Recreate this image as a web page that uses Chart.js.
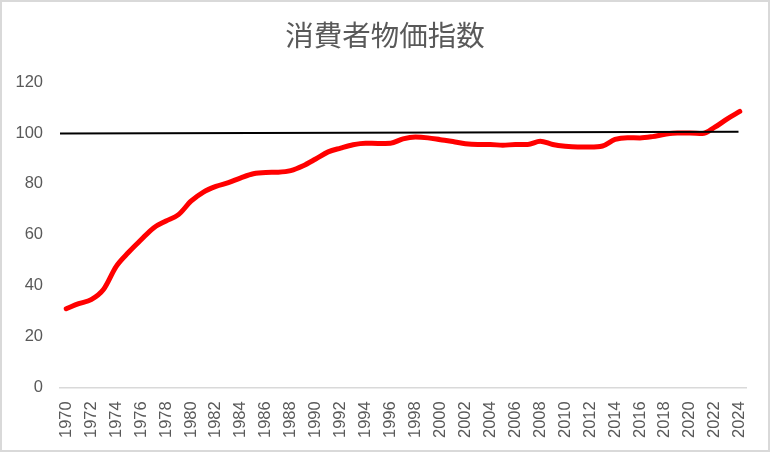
<!DOCTYPE html>
<html><head><meta charset="utf-8">
<script src="https://cdn.jsdelivr.net/npm/chart.js@4/dist/chart.umd.min.js"></script>
<style>
html,body{margin:0;padding:0;background:#fff;}
#wrap{width:770px;height:452px;box-sizing:border-box;border:2px solid #d9d9d9;position:relative;}
canvas{display:block;}
</style></head>
<body><div id="wrap"><canvas id="c" width="766" height="448"></canvas></div>
<script>
const years = [1970,1971,1972,1973,1974,1975,1976,1977,1978,1979,1980,1981,1982,1983,1984,1985,1986,1987,1988,1989,1990,1991,1992,1993,1994,1995,1996,1997,1998,1999,2000,2001,2002,2003,2004,2005,2006,2007,2008,2009,2010,2011,2012,2013,2014,2015,2016,2017,2018,2019,2020,2021,2022,2023,2024];
const cpi = [30.9,32.9,34.5,38.6,47.5,53.1,58.0,62.7,65.4,67.9,73.2,76.8,79.0,80.5,82.4,84.0,84.5,84.6,85.2,87.1,89.8,92.6,94.1,95.4,96.0,95.9,96.0,97.7,98.4,98.1,97.4,96.7,95.8,95.5,95.5,95.2,95.5,95.5,96.8,95.5,94.8,94.5,94.5,94.9,97.5,98.2,98.1,98.6,99.5,100.0,100.0,99.8,102.3,105.6,108.5];
const refX = [1969.5, 2023.9];
const refY = [99.8, 100.5];
const yTicks = [0,20,40,60,80,100,120];
const tickYears = years.filter(y => y % 2 === 0);

new Chart(document.getElementById('c'), {
  type: 'line',
  data: {
    datasets: [
      {
        data: refX.map((x,i)=>({x:x, y:refY[i]})),
        borderColor: '#000000', borderWidth: 2, pointRadius: 0, tension: 0
      },
      {
        data: years.map((x,i)=>({x:x, y:cpi[i]})),
        borderColor: '#ff0000', borderWidth: 5, pointRadius: 0, tension: 0.4,
        cubicInterpolationMode: 'monotone', borderCapStyle: 'round', borderJoinStyle: 'round'
      }
    ]
  },
  options: {
    responsive: false, animation: false,
    layout: { padding: { left: 11, right: 11, top: 8, bottom: 6 } },
    plugins: {
      legend: { display: false },
      tooltip: { enabled: false },
      title: {
        display: true, text: '消費者物価指数', color: '#595959',
        font: { family: '"Noto Sans CJK JP", sans-serif', size: 28.5, weight: 'normal' },
        padding: { top: 8, bottom: 30 }
      }
    },
    scales: {
      x: {
        type: 'linear', min: 1969.5, max: 2024.5,
        afterBuildTicks: s => { s.ticks = tickYears.map(v => ({ value: v })); },
        grid: { display: false },
        border: { display: true, color: '#d9d9d9', width: 1.5 },
        ticks: {
          color: '#595959', autoSkip: false, minRotation: 90, maxRotation: 90, padding: 6,
          font: { family: '"Liberation Sans", Arial, sans-serif', size: 16.5 },
          callback: v => String(v)
        }
      },
      y: {
        min: 0, max: 120,
        afterBuildTicks: s => { s.ticks = yTicks.map(v => ({ value: v })); },
        afterFit: s => { s.width = 47; },
        grid: { display: false, drawTicks: false },
        border: { display: false },
        ticks: {
          color: '#595959', padding: 17,
          font: { family: '"Liberation Sans", Arial, sans-serif', size: 16.5 }
        }
      },
      yRight: {
        position: 'right', min: 0, max: 120,
        afterFit: s => { s.width = 11; },
        grid: { display: false, drawTicks: false },
        border: { display: false },
        ticks: { display: false }
      }
    }
  }
});
</script></body></html>
